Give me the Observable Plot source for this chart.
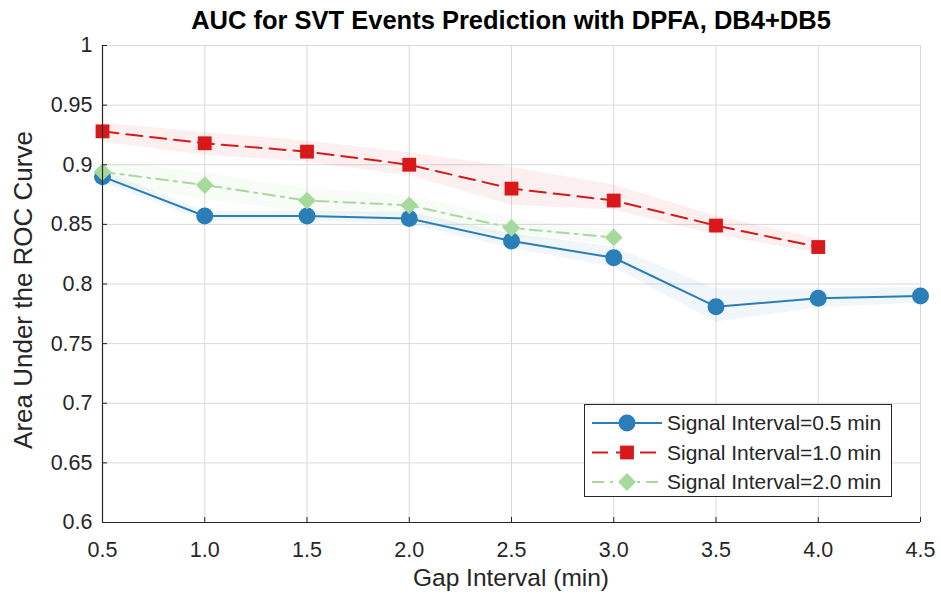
<!DOCTYPE html>
<html>
<head>
<meta charset="utf-8">
<script src="https://cdn.jsdelivr.net/npm/d3@7"></script>
<script src="https://cdn.jsdelivr.net/npm/@observablehq/plot@0.6"></script>
<style>
  body { margin: 0; background: #fff; font-family: "Liberation Sans", Arial, sans-serif; }
  #wrap { position: relative; width: 941px; height: 600px; }
  #title { position: absolute; left: 102px; width: 818px; top: 6px; text-align: center; font-weight: bold; font-size: 25.5px; color: #000; white-space: nowrap; }
  #ylab { position: absolute; left: 23px; top: 290px; transform: translate(-50%, -50%) rotate(-90deg); font-size: 26px; color: #262626; white-space: nowrap; }
  #xlab { position: absolute; left: 102px; width: 818px; top: 564px; line-height: 28px; text-align: center; font-size: 24.5px; color: #262626; }
  #chart { position: absolute; left: 0; top: 40px; }
  #legend { position: absolute; left: 584px; top: 404px; }
</style>
</head>
<body>
<div id="wrap">
  <div id="title">AUC for SVT Events Prediction with DPFA, DB4+DB5</div>
  <div id="chart"></div>
  <div id="ylab">Area Under the ROC Curve</div>
  <div id="xlab">Gap Interval (min)</div>
  <svg id="legend" width="309" height="94"></svg>
</div>
<script>
// ---- data ----
const gaps = [0.5, 1.0, 1.5, 2.0, 2.5, 3.0, 3.5, 4.0, 4.5];

const auc05 = [0.890, 0.857, 0.857, 0.855, 0.836, 0.822, 0.781, 0.788, 0.790];
const lo05  = [0.885, 0.853, 0.853, 0.850, 0.830, 0.814, 0.768, 0.780, 0.784];
const hi05  = [0.895, 0.861, 0.861, 0.860, 0.842, 0.831, 0.796, 0.796, 0.797];

const auc10 = [0.928, 0.918, 0.911, 0.900, 0.880, 0.870, 0.849, 0.831];
const lo10  = [0.919, 0.908, 0.902, 0.891, 0.866, 0.862, 0.841, 0.826];
const hi10  = [0.935, 0.927, 0.920, 0.910, 0.898, 0.883, 0.857, 0.838];

const auc20 = [0.894, 0.883, 0.870, 0.866, 0.847, 0.839];
const lo20  = [0.884, 0.871, 0.860, 0.857, 0.839, 0.833];
const hi20  = [0.904, 0.893, 0.880, 0.874, 0.855, 0.845];

const xTicks = [0.5, 1.0, 1.5, 2.0, 2.5, 3.0, 3.5, 4.0, 4.5];
const yTicks = [0.6, 0.65, 0.7, 0.75, 0.8, 0.85, 0.9, 0.95, 1];
const seriesNames = ["Signal Interval=0.5 min", "Signal Interval=1.0 min", "Signal Interval=2.0 min"];

// ---- build tables ----
function rows(vals, lo, hi) {
  return vals.map((v, i) => ({gap: gaps[i], auc: v, lo: lo[i], hi: hi[i]}));
}
const r05 = rows(auc05, lo05, hi05);
const r10 = rows(auc10, lo10, hi10);
const r20 = rows(auc20, lo20, hi20);

const BLUE = "#2a7fb8", RED = "#d7191c", GREEN = "#a6d99b";
const styles = [
  {data: r05, color: BLUE, dash: null, symbol: "circle", r: 8.5, band: 0.07},
  {data: r10, color: RED, dash: "16,8", symbol: "square", r: 7.8, band: 0.07},
  {data: r20, color: GREEN, dash: "12,6,3,6", symbol: "diamond2", r: 8, band: 0.08}
];

const marks = [
  Plot.gridX(xTicks, {stroke: "#d9d9d9", strokeOpacity: 1, strokeWidth: 1}),
  Plot.gridY(yTicks, {stroke: "#d9d9d9", strokeOpacity: 1, strokeWidth: 1})
];
for (const s of styles) {
  marks.push(Plot.areaY(s.data, {x: "gap", y1: "lo", y2: "hi", fill: s.color, fillOpacity: s.band, curve: "linear"}));
}
for (const s of styles) {
  marks.push(Plot.line(s.data, {x: "gap", y: "auc", stroke: s.color, strokeWidth: 2, strokeDasharray: s.dash}));
  marks.push(Plot.dot(s.data, {x: "gap", y: "auc", fill: s.color, stroke: "none", symbol: s.symbol, r: s.r}));
}
marks.push(
  Plot.ruleX([0.5], {stroke: "#262626", strokeWidth: 1.2}),
  Plot.ruleY([0.6], {stroke: "#262626", strokeWidth: 1.2}),
  Plot.axisX(xTicks, {tickSize: 0, tickPadding: 19, tickFormat: d3.format(".1f"), label: null, fontSize: 21.5, color: "#262626"}),
  Plot.axisX(xTicks, {tickSize: 5, dy: -5, fill: "none", stroke: "#262626", label: null}),
  Plot.axisY(yTicks, {tickSize: 0, tickPadding: 10, tickFormat: d => String(+d.toFixed(2)), label: null, fontSize: 21.5, color: "#262626"}),
  Plot.axisY(yTicks, {tickSize: 5, dx: 5, fill: "none", stroke: "#262626", label: null})
);

const chart = Plot.plot({
  width: 941,
  height: 560,
  marginTop: 5,
  marginBottom: 78,
  marginLeft: 102,
  marginRight: 21,
  style: {fontFamily: "Liberation Sans, Arial, sans-serif", background: "white", overflow: "visible"},
  x: {domain: [0.5, 4.5]},
  y: {domain: [0.6, 1]},
  marks
});
document.getElementById("chart").appendChild(chart);

// ---- legend ----
const leg = d3.select("#legend");
leg.append("rect").attr("x", 0.5).attr("y", 0.5).attr("width", 307).attr("height", 92)
  .attr("fill", "white").attr("stroke", "#262626").attr("stroke-width", 1);
const symGen = {circle: d3.symbolCircle, square: d3.symbolSquare, diamond2: d3.symbolDiamond2};
styles.forEach((s, i) => {
  const cy = 19 + i * 29.5;
  leg.append("line").attr("x1", 8).attr("x2", 78).attr("y1", cy).attr("y2", cy)
    .attr("stroke", s.color).attr("stroke-width", 2).attr("stroke-dasharray", s.dash);
  leg.append("path").attr("transform", `translate(43,${cy})`)
    .attr("d", d3.symbol(symGen[s.symbol], Math.PI * s.r * s.r)())
    .attr("fill", s.color);
  leg.append("text").attr("x", 83).attr("y", cy).attr("dy", "0.35em")
    .attr("font-size", 21).attr("fill", "#262626")
    .attr("font-family", "Liberation Sans, Arial, sans-serif")
    .text(seriesNames[i]);
});
</script>
</body>
</html>
